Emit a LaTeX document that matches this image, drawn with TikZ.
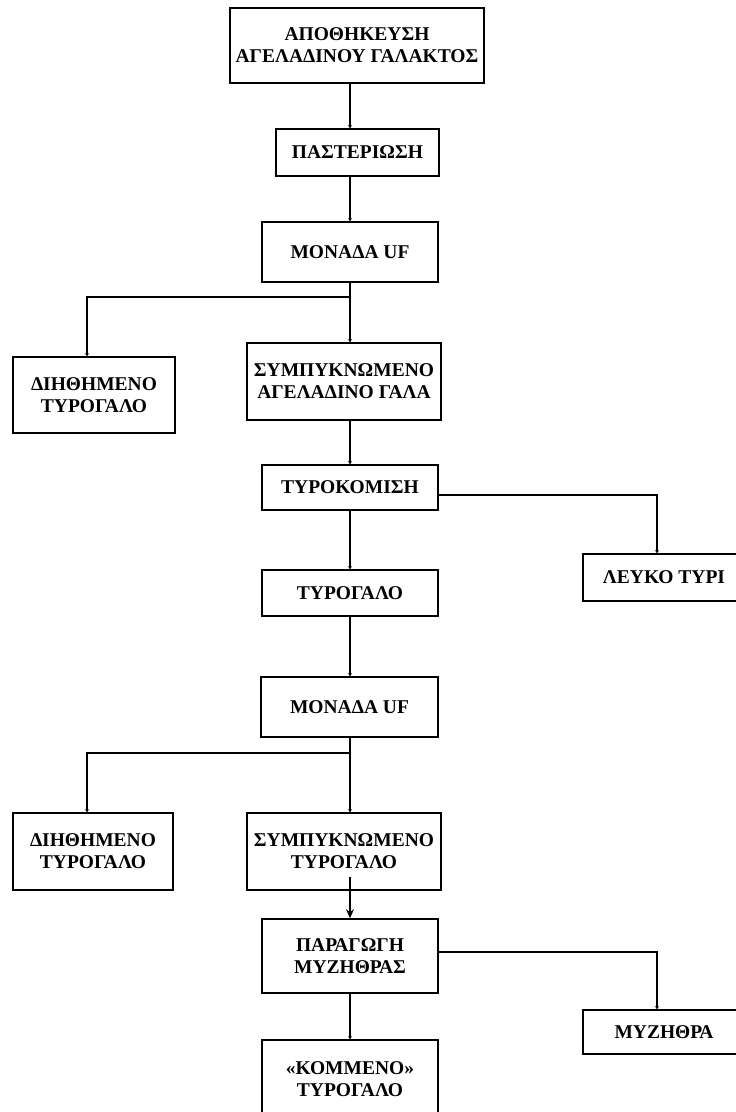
\documentclass[tikz,border=0pt]{standalone}
\usepackage{fontspec}
\setmainfont{Liberation Serif}
\usetikzlibrary{arrows.meta}
\tikzset{
  box/.style={draw=black, line width=1.6pt, align=center, inner sep=2pt,
    font=\fontsize{19.5}{22}\selectfont\bfseries, fill=white},
  conn/.style={draw=black, line width=1.6pt},
  arr/.style={conn, -{Stealth[length=3pt,width=4pt]}},
  bigarr/.style={conn, -{Stealth[length=9pt,width=8pt]}}
}
\begin{document}
\begin{tikzpicture}[x=1pt,y=-1pt]
\useasboundingbox[fill=white] (0,0) rectangle (736,1112);
\coordinate (ax) at (350,0);
\coordinate (lx) at (87,0);
\coordinate (rx) at (657,0);
\coordinate (j1) at (350,297);
\coordinate (j2) at (350,753);
\coordinate (h1) at (0,495);
\coordinate (h2) at (0,952);

\node[box, minimum width=254pt, minimum height=75pt] (b1) at (357,45.5) {ΑΠΟΘΗΚΕΥΣΗ\\ΑΓΕΛΑΔΙΝΟΥ ΓΑΛΑΚΤΟΣ};
\node[box, minimum width=163pt, minimum height=47pt] (b2) at (357.5,152.5) {ΠΑΣΤΕΡΙΩΣΗ};
\node[box, minimum width=176pt, minimum height=60pt] (b3) at (350,252) {ΜΟΝΑΔΑ UF};
\node[box, minimum width=162pt, minimum height=76pt] (b4) at (94,395) {ΔΙΗΘΗΜΕΝΟ\\ΤΥΡΟΓΑΛΟ};
\node[box, minimum width=194pt, minimum height=77pt] (b5) at (344,381.5) {ΣΥΜΠΥΚΝΩΜΕΝΟ\\ΑΓΕΛΑΔΙΝΟ ΓΑΛΑ};
\node[box, minimum width=176pt, minimum height=45pt] (b6) at (350,487.5) {ΤΥΡΟΚΟΜΙΣΗ};
\node[box, minimum width=162pt, minimum height=47pt] (b7) at (664,577.5) {ΛΕΥΚΟ ΤΥΡΙ};
\node[box, minimum width=176pt, minimum height=46pt] (b8) at (350,593) {ΤΥΡΟΓΑΛΟ};
\node[box, minimum width=177pt, minimum height=60pt] (b9) at (349.5,707) {ΜΟΝΑΔΑ UF};
\node[box, minimum width=160pt, minimum height=77pt] (b10) at (93,851.5) {ΔΙΗΘΗΜΕΝΟ\\ΤΥΡΟΓΑΛΟ};
\node[box, minimum width=194pt, minimum height=77pt] (b11) at (344,851.5) {ΣΥΜΠΥΚΝΩΜΕΝΟ\\ΤΥΡΟΓΑΛΟ};
\node[box, minimum width=176pt, minimum height=74pt] (b12) at (350,956) {ΠΑΡΑΓΩΓΗ\\ΜΥΖΗΘΡΑΣ};
\node[box, minimum width=162pt, minimum height=44pt] (b13) at (664,1032) {ΜΥΖΗΘΡΑ};
\node[box, minimum width=176pt, minimum height=78pt] (b14) at (350,1079) {«ΚΟΜΜΕΝΟ»\\ΤΥΡΟΓΑΛΟ};

\draw[arr] (b1.south -| ax) -- (b2.north -| ax);
\draw[arr] (b2.south -| ax) -- (b3.north -| ax);
\draw[arr] (b3.south -| ax) -- (b5.north -| ax);
\draw[arr] (j1) -- (j1 -| lx) -- (b4.north -| lx);
\draw[arr] (b5.south -| ax) -- (b6.north -| ax);
\draw[arr] (b6.south -| ax) -- (b8.north -| ax);
\draw[arr] (h1 -| b6.east) -- (h1 -| rx) -- (b7.north -| rx);
\draw[arr] (b8.south -| ax) -- (b9.north -| ax);
\draw[conn] (b9.south -| ax) -- (j2);
\draw[arr] (j2) -- (b11.north -| ax);
\draw[arr] (j2) -- (j2 -| lx) -- (b10.north -| lx);
\draw[bigarr] ([yshift=14pt]b11.south -| ax) -- (b12.north -| ax);
\draw[arr] (b12.south -| ax) -- (b14.north -| ax);
\draw[arr] (h2 -| b12.east) -- (h2 -| rx) -- (b13.north -| rx);
\end{tikzpicture}
\end{document}
